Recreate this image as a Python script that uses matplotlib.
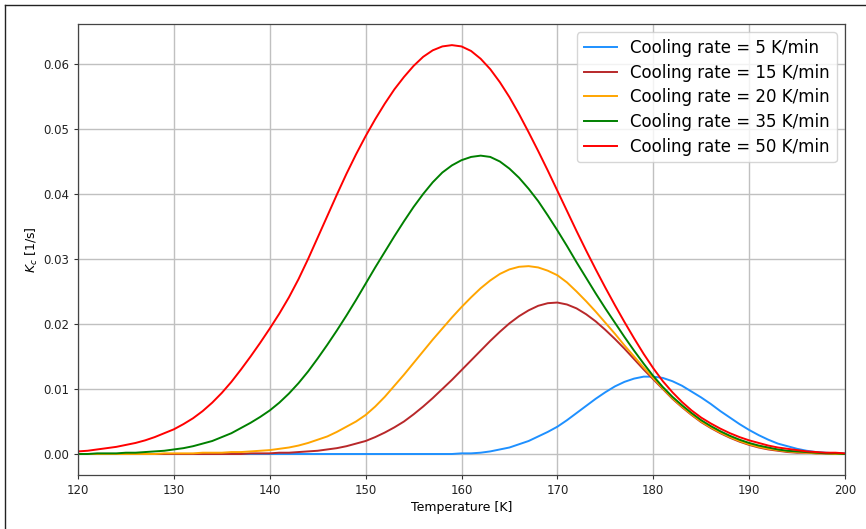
import numpy as np
import matplotlib
matplotlib.use("Agg")
import matplotlib.pyplot as plt
from matplotlib.lines import Line2D
from matplotlib.ticker import FormatStrFormatter

# Temperature grid [K], 1 K steps
temperature = list(range(120, 201))

# Crystallization rate constant K_c [1/s] for each cooling rate (120 ... 200 K)
kc_5 = [0.0000, 0.0000, 0.0000, 0.0000, 0.0000, 0.0000, 0.0000, 0.0000, 0.0000, 0.0000,  # 120-129
        0.0000, 0.0000, 0.0000, 0.0000, 0.0000, 0.0000, 0.0000, 0.0000, 0.0000, 0.0000,  # 130-139
        0.0000, 0.0000, 0.0000, 0.0000, 0.0000, 0.0000, 0.0000, 0.0000, 0.0000, 0.0000,  # 140-149
        0.0000, 0.0000, 0.0000, 0.0000, 0.0000, 0.0000, 0.0000, 0.0000, 0.0000, 0.0000,  # 150-159
        0.0001, 0.0001, 0.0002, 0.0004, 0.0007, 0.0010, 0.0015, 0.0020, 0.0027, 0.0034,  # 160-169
        0.0042, 0.0052, 0.0063, 0.0074, 0.0085, 0.0095, 0.0104, 0.0111, 0.0116, 0.0119,  # 170-179
        0.0119, 0.0117, 0.0112, 0.0105, 0.0096, 0.0087, 0.0077, 0.0066, 0.0056, 0.0046,  # 180-189
        0.0037, 0.0029, 0.0022, 0.0016, 0.0012, 0.0008, 0.0005, 0.0003, 0.0002, 0.0001,  # 190-199
        0.0001]
kc_15 = [0.0000, 0.0000, 0.0000, 0.0000, 0.0000, 0.0000, 0.0000, 0.0000, 0.0000, 0.0000,
         0.0000, 0.0000, 0.0000, 0.0000, 0.0000, 0.0000, 0.0000, 0.0000, 0.0001, 0.0001,
         0.0001, 0.0002, 0.0002, 0.0003, 0.0004, 0.0005, 0.0007, 0.0009, 0.0012, 0.0016,
         0.0020, 0.0026, 0.0033, 0.0041, 0.0050, 0.0061, 0.0073, 0.0086, 0.0100, 0.0114,
         0.0129, 0.0144, 0.0159, 0.0174, 0.0188, 0.0201, 0.0212, 0.0221, 0.0228, 0.0232,
         0.0233, 0.0230, 0.0224, 0.0215, 0.0204, 0.0191, 0.0177, 0.0162, 0.0146, 0.0130,
         0.0115, 0.0100, 0.0085, 0.0072, 0.0060, 0.0049, 0.0040, 0.0032, 0.0025, 0.0019,
         0.0014, 0.0010, 0.0007, 0.0005, 0.0003, 0.0002, 0.0002, 0.0001, 0.0001, 0.0000,
         0.0000]
kc_20 = [0.0000, 0.0000, 0.0000, 0.0000, 0.0000, 0.0000, 0.0000, 0.0000, 0.0000, 0.0001,
         0.0001, 0.0001, 0.0001, 0.0002, 0.0002, 0.0002, 0.0003, 0.0003, 0.0004, 0.0005,
         0.0006, 0.0008, 0.0010, 0.0013, 0.0017, 0.0022, 0.0027, 0.0034, 0.0042, 0.0050,
         0.0060, 0.0073, 0.0088, 0.0105, 0.0122, 0.0140, 0.0158, 0.0176, 0.0193, 0.0210,
         0.0226, 0.0241, 0.0255, 0.0267, 0.0277, 0.0284, 0.0288, 0.0289, 0.0287, 0.0282,
         0.0275, 0.0264, 0.0250, 0.0235, 0.0219, 0.0202, 0.0185, 0.0167, 0.0150, 0.0133,
         0.0117, 0.0101, 0.0086, 0.0073, 0.0061, 0.0050, 0.0041, 0.0033, 0.0026, 0.0020,
         0.0015, 0.0011, 0.0008, 0.0006, 0.0004, 0.0003, 0.0002, 0.0001, 0.0001, 0.0000,
         0.0000]
kc_35 = [0.0000, 0.0000, 0.0001, 0.0001, 0.0001, 0.0002, 0.0002, 0.0003, 0.0004, 0.0005,
         0.0007, 0.0009, 0.0012, 0.0016, 0.0020, 0.0026, 0.0032, 0.0040, 0.0048, 0.0057,
         0.0067, 0.0079, 0.0093, 0.0109, 0.0127, 0.0147, 0.0168, 0.0190, 0.0213, 0.0237,
         0.0262, 0.0287, 0.0311, 0.0335, 0.0358, 0.0380, 0.0400, 0.0418, 0.0433, 0.0444,
         0.0452, 0.0457, 0.0459, 0.0457, 0.0450, 0.0439, 0.0425, 0.0408, 0.0389, 0.0367,
         0.0344, 0.0320, 0.0295, 0.0271, 0.0247, 0.0224, 0.0202, 0.0180, 0.0159, 0.0139,
         0.0120, 0.0103, 0.0088, 0.0075, 0.0063, 0.0052, 0.0043, 0.0035, 0.0028, 0.0022,
         0.0017, 0.0013, 0.0010, 0.0007, 0.0005, 0.0004, 0.0003, 0.0002, 0.0001, 0.0001,
         0.0000]
kc_50 = [0.0004, 0.0005, 0.0007, 0.0009, 0.0011, 0.0014, 0.0017, 0.0021, 0.0026, 0.0032,
         0.0038, 0.0046, 0.0055, 0.0066, 0.0079, 0.0094, 0.0111, 0.0130, 0.0150, 0.0171,
         0.0193, 0.0216, 0.0241, 0.0269, 0.0300, 0.0333, 0.0366, 0.0399, 0.0431, 0.0461,
         0.0489, 0.0515, 0.0539, 0.0561, 0.0580, 0.0597, 0.0611, 0.0621, 0.0627, 0.0629,
         0.0627, 0.0620, 0.0608, 0.0592, 0.0572, 0.0549, 0.0523, 0.0495, 0.0466, 0.0436,
         0.0405, 0.0374, 0.0343, 0.0313, 0.0284, 0.0256, 0.0229, 0.0203, 0.0178, 0.0154,
         0.0132, 0.0112, 0.0095, 0.0080, 0.0067, 0.0056, 0.0047, 0.0039, 0.0032, 0.0026,
         0.0021, 0.0017, 0.0013, 0.0010, 0.0008, 0.0006, 0.0004, 0.0003, 0.0002, 0.0002,
         0.0001]

series = [
    ("Cooling rate = 5 K/min", kc_5, "dodgerblue"),
    ("Cooling rate = 15 K/min", kc_15, "#b8282a"),
    ("Cooling rate = 20 K/min", kc_20, "orange"),
    ("Cooling rate = 35 K/min", kc_35, "green"),
    ("Cooling rate = 50 K/min", kc_50, "red"),
]

fig = plt.figure(figsize=(8.66, 5.29), dpi=100)
ax = fig.add_axes([78 / 866, 1 - 475 / 529, (845 - 78) / 866, (475 - 24) / 529])

for label, values, color in series:
    ax.plot(temperature, values, color=color, linewidth=1.4, label=label)

ax.set_xlim(120, 200)
ax.set_ylim(-0.00323, 0.06615)
ax.set_xticks(range(120, 201, 10))
ax.set_yticks(np.arange(0, 0.061, 0.01))
ax.yaxis.set_major_formatter(FormatStrFormatter("%.2f"))
ax.grid(True, color="#c0c0c0", linewidth=1.0)
ax.tick_params(labelsize=8.5, length=3, width=0.8, colors="#333333", labelcolor="#222222")
for sp in ax.spines.values():
    sp.set_color("#444444")
    sp.set_linewidth(0.9)

ax.set_xlabel("Temperature [K]", fontsize=9, labelpad=3)
ax.set_ylabel(r"$K_c$ [1/s]", fontsize=9, labelpad=2.5)

ax.legend(loc="upper right", fontsize=12, handlelength=2.0, borderpad=0.4,
          labelspacing=0.4, framealpha=0.8, borderaxespad=0.5)

# outer frame lines along the top and left edges of the figure
fig.add_artist(Line2D([5 / 866, 1.0], [1 - 5 / 529, 1 - 5 / 529],
                      transform=fig.transFigure, color="#222222", linewidth=1.0))
fig.add_artist(Line2D([5 / 866, 5 / 866], [0.0, 1 - 5 / 529],
                      transform=fig.transFigure, color="#222222", linewidth=1.0))

fig.savefig("out.png", dpi=100)
